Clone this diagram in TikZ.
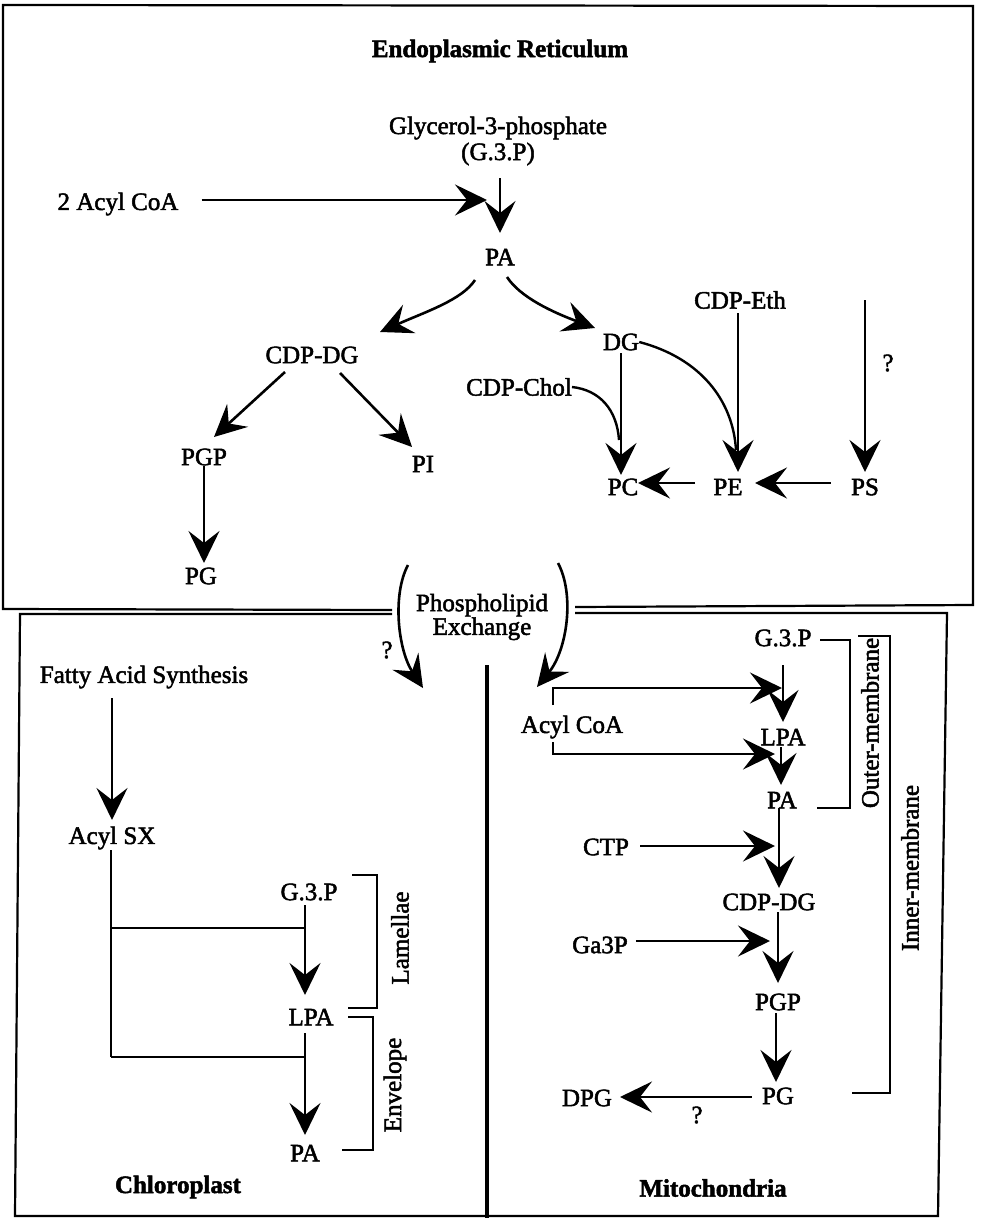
\documentclass[tikz,border=0pt]{standalone}
\usepackage{fontspec}
\setmainfont{Liberation Serif}[FakeBold=2]
\usetikzlibrary{arrows.meta,calc}
\tikzset{
  lbl/.style={font=\fontsize{25}{26}\selectfont, inner sep=0pt, align=center},
  ttl/.style={font=\fontsize{25}{26}\selectfont\bfseries, inner sep=0pt},
  arr/.style={line width=2.6pt, -{Stealth[length=32pt,width=31pt,inset=12pt]}},
  ln/.style={line width=2.4pt},
  brk/.style={line width=2pt},
  boxln/.style={line width=2.2pt},
}
\begin{document}
\begin{tikzpicture}[x=1pt,y=-1pt]
\useasboundingbox[fill=white] (0,0) rectangle (986,1218);

% ---------- frames ----------
\draw[boxln] (392,610) -- (3,609) -- (3,5) -- (973,6) -- (973,605) -- (575,607);
\draw[boxln] (392,614) -- (20,614) -- (15,1216) -- (938,1216) -- (947,613) -- (575,613);
\draw[line width=4pt] (487,665) -- (487,1218);

% ---------- Endoplasmic reticulum ----------
\node[ttl] (ertitle) at (500,51) {Endoplasmic Reticulum};
\node[lbl] (gly) at (498,141) {Glycerol-3-phosphate\\(G.3.P)};
\node[lbl] (acyl2) at (118,204) {2 Acyl CoA};
\node[lbl] (pa) at (500,257) {PA};
\node[lbl] (cdpdg) at (312,355) {CDP-DG};
\node[lbl] (dg) at (621,342) {DG};
\node[lbl] (cdpeth) at (740,300) {CDP-Eth};
\node[lbl] (cdpchol) at (519,387) {CDP-Chol};
\node[lbl] (q1) at (888,363) {?};
\node[lbl] (pgp) at (204,457) {PGP};
\node[lbl] (pi) at (423,464) {PI};
\node[lbl] (pc) at (623,487) {PC};
\node[lbl] (pe) at (728,487) {PE};
\node[lbl] (ps) at (865,487) {PS};
\node[lbl] (pg) at (201,576) {PG};
\node[lbl, font=\fontsize{25}{21}\selectfont] (exch) at (482,617) {Phospholipid\\Exchange};
\node[lbl] (q2) at (387,650) {?};
\coordinate (psin) at (865,300);

\draw[arr] (pa.north |- 0,178) -- (pa.north |- 0,233);
\draw[arr] ([xshift=23pt]acyl2.east |- 0,200) -- (487,200);
\draw[arr] (475,280) .. controls (462,300) and (425,312) .. (380,332);
\draw[arr] (507,277) .. controls (520,297) and (552,312) .. (595,328);
\draw[arr] (285,372) -- (214,437);
\draw[arr] (340,373) -- (412,447);
\draw[arr] (204,466) -- (204,563);
\draw[arr] (dg.south |- 0,353) -- (dg.south |- 0,475);
\draw[arr] (738,313) -- (738,472);
\draw[arr] (psin) -- (865,472);
\draw[ln] (cdpchol.east) .. controls (600,390) and (617,410) .. (619,440);
\draw[ln] (dg.east) .. controls (700,358) and (733,400) .. (736,450);
\draw[arr] ([xshift=-20pt]ps.west |- 0,483) -- (755,483);
\draw[arr] ([xshift=-18pt]pe.west |- 0,483) -- (638,483);
\draw[arr] (408,565) .. controls (392,595) and (398,650) .. (423,688);
\draw[arr] (558,563) .. controls (575,595) and (567,650) .. (537,687);

% ---------- Chloroplast ----------
\node[lbl] (fas) at (144,677) {Fatty Acid Synthesis};
\node[lbl] (acylsx) at (112,838) {Acyl SX};
\node[lbl] (cg3p) at (309,892) {G.3.P};
\node[lbl] (clpa) at (311,1017) {LPA};
\node[lbl] (cpa) at (305,1153) {PA};
\node[lbl, rotate=90] (lam) at (400,938) {Lamellae};
\node[lbl, rotate=90] (env) at (395,1085) {Envelope};
\node[ttl] (chl) at (178,1187) {Chloroplast};

\draw[arr] (112,698) -- (112,820);
\draw[ln] (111,850) -- (111,1057);
\draw[ln] (111,928) -- (305,928);
\draw[ln] (111,1057) -- (305,1057);
\draw[arr] (305,905) -- (305,995);
\draw[arr] (305,1033) -- (305,1135);
\draw[brk] (352,875) -- (377,875) -- (377,1008) -- (348,1008);
\draw[brk] (348,1017) -- (373,1017) -- (373,1150) -- (342,1150);

% ---------- Mitochondria ----------
\node[lbl] (mg3p) at (783,638) {G.3.P};
\node[lbl] (macyl) at (572,727) {Acyl CoA};
\node[lbl] (mlpa) at (783,737) {LPA};
\node[lbl] (mpa) at (782,800) {PA};
\node[lbl] (ctp) at (606,847) {CTP};
\node[lbl] (mcdpdg) at (769,902) {CDP-DG};
\node[lbl] (ga3p) at (600,945) {Ga3P};
\node[lbl] (mpgp) at (778,1002) {PGP};
\node[lbl] (mpg) at (778,1096) {PG};
\node[lbl] (dpg) at (587,1098) {DPG};
\node[lbl] (q3) at (697,1115) {?};
\node[lbl, rotate=90] (outer) at (870,723) {Outer-membrane};
\node[lbl, rotate=90] (inner) at (910,868) {Inner-membrane};
\node[ttl] (mito) at (713,1188) {Mitochondria};

\draw[arr] (783,665) -- (783,722);
\draw[arr] (553,705) -- (553,688) -- (782,688);
\draw[arr] (553,742) -- (553,754) -- (775,754);
\draw[arr] (781,747) -- (781,785);
\draw[arr] (779,808) -- (779,888);
\draw[arr] ([xshift=11pt]ctp.east |- 0,846) -- (775,846);
\draw[arr] (778,912) -- (778,983);
\draw[arr] ([xshift=8pt]ga3p.east |- 0,941) -- (770,941);
\draw[arr] (776,1013) -- (776,1082);
\draw[arr] ([xshift=-10pt]mpg.west |- 0,1097) -- (620,1097);
\draw[brk] (820,640) -- (850,640) -- (850,808) -- (817,808);
\draw[brk] (858,636) -- (890,636) -- (890,1093) -- (852,1093);
\end{tikzpicture}
\end{document}
